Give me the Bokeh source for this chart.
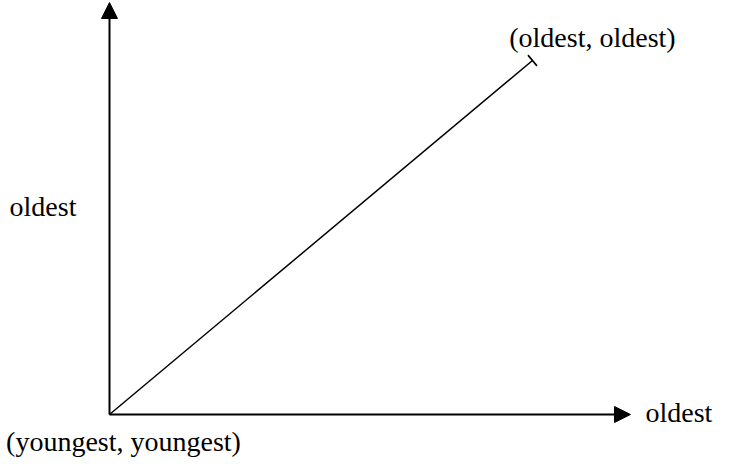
from bokeh.plotting import figure
from bokeh.models import Range1d, Arrow, NormalHead, TeeHead, ColumnDataSource
from bokeh.core.properties import value
from bokeh.embed import file_html
from bokeh.resources import INLINE

# ---- data (conceptual diagram: youngest = 0, oldest = 1) ----
corner_x = [0, 1]
corner_y = [0, 1]
corner_labels = ["(youngest, youngest)", "(oldest, oldest)"]
x_axis_label = "oldest"
y_axis_label = "oldest"

FONT = value("Liberation Serif")
FS = "28px"

p = figure(width=713, height=457,
           x_range=Range1d(-0.2577, 1.428), y_range=Range1d(-0.1215, 1.1695),
           output_backend="svg", toolbar_location=None, min_border=0)
p.axis.visible = False
p.grid.visible = False
p.outline_line_color = None
p.background_fill_color = "white"
p.border_fill_color = "white"

x_tip = 1.2317
y_tip = 1.1638

# axes with arrow heads
p.add_layout(Arrow(end=NormalHead(size=16, fill_color="black", line_color="black", line_width=1),
                   x_start=corner_x[0], y_start=corner_y[0], x_end=x_tip, y_end=corner_y[0],
                   line_width=2, line_color="black"))
p.add_layout(Arrow(end=NormalHead(size=16, fill_color="black", line_color="black", line_width=1),
                   x_start=corner_x[0], y_start=corner_y[0], x_end=corner_x[0], y_end=y_tip,
                   line_width=2, line_color="black"))

# diagonal with tee end
p.add_layout(Arrow(end=TeeHead(size=14, line_width=1.6, line_color="black"), start=None,
                   x_start=corner_x[0], y_start=corner_y[0], x_end=corner_x[1], y_end=corner_y[1],
                   line_width=1.5, line_color="black"))

# corner labels
src = ColumnDataSource(dict(x=corner_x, y=corner_y, t=corner_labels,
                            xo=[14, 60], yo=[27, -23]))
p.text(x="x", y="y", text="t", x_offset="xo", y_offset="yo", source=src,
       text_font=FONT, text_font_size=FS, text_align="center", text_baseline="alphabetic",
       text_color="black")

# axis labels
p.text(x=[x_tip], y=[0], text=[x_axis_label], x_offset=15, y_offset=-2,
       text_font=FONT, text_font_size=FS, text_align="left", text_baseline="alphabetic",
       text_color="black")
p.text(x=[0], y=[0.5], text=[y_axis_label], x_offset=-66.5, y_offset=-31,
       text_font=FONT, text_font_size=FS, text_align="center", text_baseline="alphabetic",
       text_color="black")

open("out.html", "w").write(file_html(p, INLINE))
